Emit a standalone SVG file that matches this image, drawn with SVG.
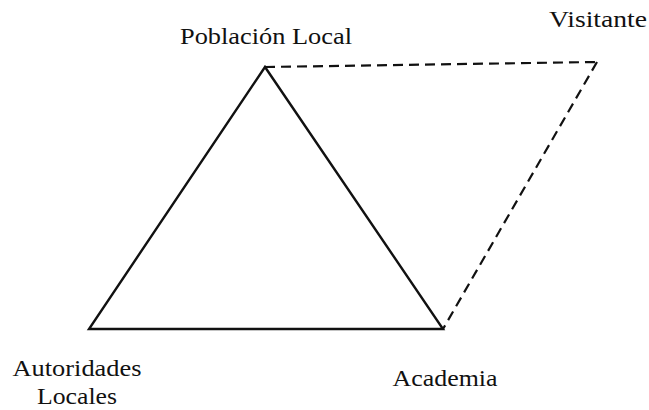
<svg xmlns="http://www.w3.org/2000/svg" width="649" height="410" viewBox="0 0 649 410">
<style>
text{font-family:"Liberation Serif","Times New Roman",serif;font-size:23px;fill:#111;text-anchor:middle}
.solid{stroke:#111;stroke-width:2.4;fill:none}
.dash{stroke:#111;stroke-width:2.2;fill:none;stroke-dasharray:10,6}
</style>
<rect width="649" height="410" fill="#fff"/>
<g id="connectors">
<polygon class="solid" points="265,67 89,329 443,329"/>
<line class="dash" x1="265" y1="67" x2="597" y2="62"/>
<line class="dash" x1="597" y1="62" x2="443" y2="329"/>
</g>
<g id="poblacion"><text x="266" y="44" textLength="172" lengthAdjust="spacingAndGlyphs">Población Local</text></g>
<g id="visitante"><text x="598" y="27" textLength="98" lengthAdjust="spacingAndGlyphs">Visitante</text></g>
<g id="autoridades"><text x="77" y="376" textLength="129" lengthAdjust="spacingAndGlyphs">Autoridades</text><text x="77" y="404" textLength="80" lengthAdjust="spacingAndGlyphs">Locales</text></g>
<g id="academia"><text x="445" y="386" textLength="105" lengthAdjust="spacingAndGlyphs">Academia</text></g>
</svg>
